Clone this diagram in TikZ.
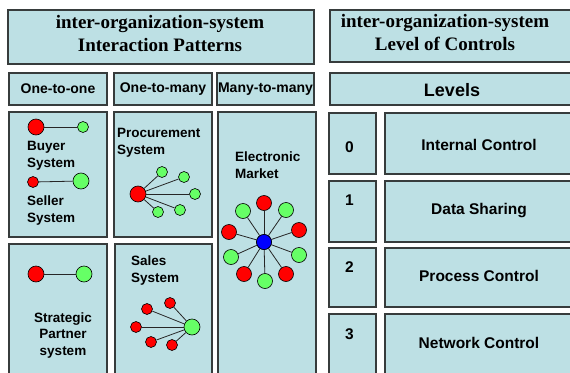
\documentclass[tikz,border=0pt]{standalone}
\usepackage{fontspec}
\setmainfont{Liberation Serif}
\setsansfont{Liberation Sans}
\definecolor{boxfill}{RGB}{189,224,228}
\definecolor{bord}{RGB}{55,60,60}
\definecolor{redc}{RGB}{255,0,0}
\definecolor{greenc}{RGB}{102,255,102}
\definecolor{bluec}{RGB}{0,0,255}
\tikzset{
 box/.style={draw=bord, line width=1.3pt, fill=boxfill, rectangle, inner sep=0pt},
 ttl/.style={font=\fontsize{19}{23}\selectfont\bfseries, align=center, inner sep=0pt},
 hdr/.style={font=\sffamily\bfseries\fontsize{14}{17}\selectfont, inner sep=0pt},
 lbl/.style={font=\sffamily\bfseries\fontsize{13.5}{17}\selectfont, align=left, inner sep=0pt, anchor=west},
 lvl/.style={font=\sffamily\bfseries\fontsize{15.5}{18}\selectfont, inner sep=0pt},
 nd/.style={circle, draw=black, line width=0.6pt, inner sep=0pt},
 bigc/.style={minimum size=16pt},
 smc/.style={minimum size=11pt},
 emc/.style={minimum size=15pt},
 rd/.style={nd, fill=redc},
 gr/.style={nd, fill=greenc},
 bl/.style={nd, fill=bluec},
 lk/.style={draw=black!85, line width=0.8pt}
}
\begin{document}
\begin{tikzpicture}[x=1pt,y=-1pt]
\useasboundingbox (0,0) rectangle (570,372);
\fill[white] (0,0) rectangle (570,372);
\clip (0,0) rectangle (570,372);
% titles
\node[box, minimum width=306pt, minimum height=54pt] (t1) at (161,37) {};
\node[ttl] (t1txt) at (160,34) {inter-organization-system\\Interaction Patterns};
\node[box, minimum width=250pt, minimum height=52pt] (t2) at (455,36) {};
\node[ttl] (t2txt) at (445,33) {inter-organization-system\\Level of Controls};
% headers
\node[box, minimum width=98pt, minimum height=32pt] (h1) at (58,89) {};
\node[hdr] (h1txt) at (58,89) {One-to-one};
\node[box, minimum width=98pt, minimum height=32pt] (h2) at (163,89) {};
\node[hdr] (h2txt) at (163,89) {One-to-many};
\node[box, minimum width=97pt, minimum height=32pt] (h3) at (265.5,89) {};
\node[hdr] (h3txt) at (265.5,89) {Many-to-many};
\node[box, minimum width=250pt, minimum height=32pt] (h4) at (455,89) {};
\node[font=\sffamily\bfseries\fontsize{18}{20}\selectfont, inner sep=0pt] (h4txt) at (452,90) {Levels};
% panels
\node[box, minimum width=98pt, minimum height=125pt] (p1) at (58,174.5) {};
\node[box, minimum width=98pt, minimum height=125pt] (p2) at (163,174.5) {};
\node[box, minimum width=98pt, minimum height=273pt] (p3) at (267,248.5) {};
\node[box, minimum width=98pt, minimum height=141pt] (p4) at (58,314.5) {};
\node[box, minimum width=97pt, minimum height=141pt] (p5) at (163.5,314.5) {};
% levels
\node[box, minimum width=47pt, minimum height=61pt] (n0) at (352.5,143.5) {};
\node[box, minimum width=195pt, minimum height=61pt] (l0) at (482.5,143.5) {};
\node[box, minimum width=47pt, minimum height=61pt] (n1) at (352.5,211.5) {};
\node[box, minimum width=195pt, minimum height=61pt] (l1) at (482.5,211.5) {};
\node[box, minimum width=47pt, minimum height=59pt] (n2) at (352.5,277.5) {};
\node[box, minimum width=195pt, minimum height=59pt] (l2) at (482.5,277.5) {};
\node[box, minimum width=47pt, minimum height=71pt] (n3) at (352.5,349.5) {};
\node[box, minimum width=195pt, minimum height=71pt] (l3) at (482.5,349.5) {};
\node[lvl] (d0) at (349.5,147) {0};
\node[lvl] (d1) at (349.5,200) {1};
\node[lvl] (d2) at (349.5,267) {2};
\node[lvl] (d3) at (349.5,334) {3};
\node[lvl] (c0) at (479,145) {Internal Control};
\node[lvl] (c1) at (479,211) {Data Sharing};
\node[lvl] (c2) at (479,276) {Process Control};
\node[lvl] (c3) at (479,343) {Network Control};
% one-to-one
\node[rd, bigc] (b1) at (36,127) {};
\node[gr, smc] (b2) at (83,127) {};
\draw[lk] (b1) -- (b2);
\node[lbl] (btxt) at (27,155.5) {Buyer\\System};
\node[rd, smc] (s1) at (33,182) {};
\node[gr, bigc] (s2) at (81,181) {};
\draw[lk] (s1) -- (s2);
\node[lbl] (stxt) at (27,210.5) {Seller\\System};
% procurement
\node[lbl] (ptxt) at (117,142.5) {Procurement\\System};
\node[rd, bigc] (ph) at (138,194) {};
\node[gr, smc] (pa) at (162,172) {};
\node[gr, smc] (pb) at (184,177) {};
\node[gr, smc] (pc) at (195,194) {};
\node[gr, smc] (pd) at (180,210) {};
\node[gr, smc] (pe) at (158,212) {};
\foreach \n in {pa,pb,pc,pd,pe} \draw[lk] (ph) -- (\n);
% electronic market
\node[lbl] (etxt) at (235,165.5) {Electronic\\Market};
\node[bl, emc] (eh) at (264,242) {};
\node[rd, emc] (e1) at (264,203) {};
\node[gr, emc] (e2) at (286,210) {};
\node[rd, emc] (e3) at (299,230) {};
\node[gr, emc] (e4) at (299,255) {};
\node[rd, emc] (e5) at (286,274) {};
\node[gr, emc] (e6) at (265,281) {};
\node[rd, emc] (e7) at (244,274) {};
\node[gr, emc] (e8) at (231,257) {};
\node[rd, emc] (e9) at (229,232) {};
\node[gr, emc] (e10) at (243,211) {};
\foreach \n in {e1,e2,e3,e4,e5,e6,e7,e8,e9,e10} \draw[lk] (eh) -- (\n);
\node[bl, emc] at (eh) {};
% strategic partner
\node[rd, bigc] (sp1) at (36,274) {};
\node[gr, bigc] (sp2) at (84,274) {};
\draw[lk] (sp1) -- (sp2);
\node[font=\sffamily\bfseries\fontsize{13.5}{16.5}\selectfont, align=center, inner sep=0pt] (sptxt) at (63,335.5) {Strategic\\Partner\\system};
% sales
\node[lbl] (satxt) at (131,270.5) {Sales\\System};
\node[gr, bigc] (sh) at (192,327) {};
\node[rd, smc] (sa) at (170,303) {};
\node[rd, smc] (sb) at (147,309) {};
\node[rd, smc] (sc) at (136,327) {};
\node[rd, smc] (sd) at (151,342) {};
\node[rd, smc] (se) at (172,345) {};
\foreach \n in {sa,sb,sc,sd,se} \draw[lk] (sh) -- (\n);
\end{tikzpicture}
\end{document}
